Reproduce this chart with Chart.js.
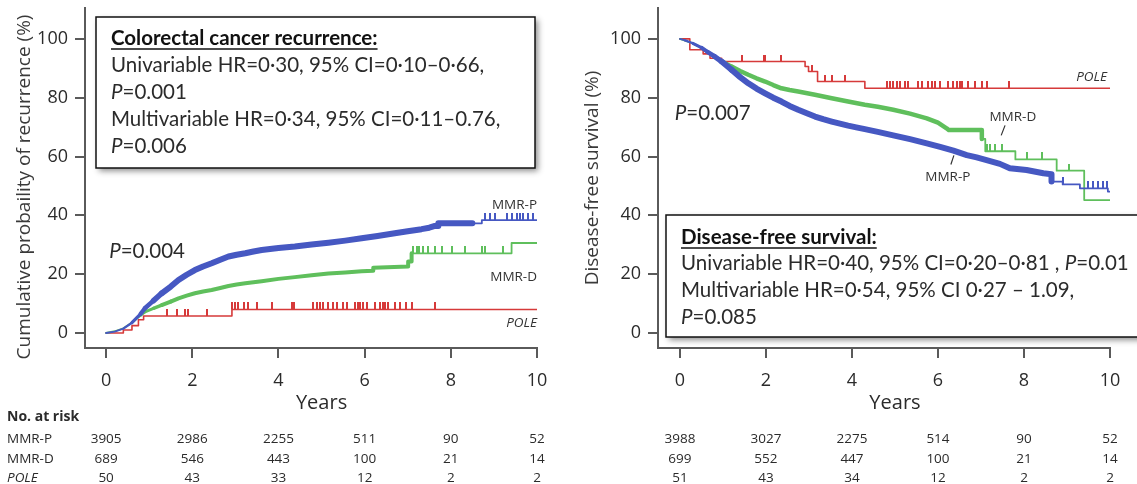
<!DOCTYPE html>
<html>
<head>
<meta charset="utf-8">
<script src="https://cdn.jsdelivr.net/npm/chart.js@4.4.1/dist/chart.umd.min.js"></script>
<style>
body { margin: 0; background: #fff; }
#wrap { position: relative; width: 1137px; height: 484px; overflow: hidden; }
#c1 { position: absolute; left: 0; top: 0; }
#c2 { position: absolute; left: 560px; top: 0; }
</style>
</head>
<body>
<div id="wrap">
  <canvas id="c1" width="560" height="484"></canvas>
  <canvas id="c2" width="577" height="484"></canvas>
</div>
<script>
// axis ticks
const xTicks = [0, 2, 4, 6, 8, 10];
const yTicks = [0, 20, 40, 60, 80, 100];

// left panel: cumulative probability of recurrence (%), times in years
// (a repeated time is a vertical jump of the curve)
const recPT = [0, 0.2, 0.4, 0.6, 0.8, 0.9, 1.1, 1.29, 1.5, 1.68, 1.87, 2.06, 2.25, 2.45, 2.65, 2.84, 3.03, 3.23, 3.42, 3.61, 4.0, 4.38, 4.77, 5.16, 5.55, 5.93, 6.3, 6.7, 7.0, 7.32, 7.5, 7.63, 7.71, 7.71, 8.5, 8.72, 8.72, 10];
const recPV = [0, 0.5, 1.5, 3.5, 6.5, 8.4, 11, 13.5, 15.8, 18, 19.8, 21.4, 22.6, 23.7, 24.9, 26, 26.6, 27.1, 27.7, 28.2, 28.9, 29.4, 30.1, 30.7, 31.4, 32.2, 33.0, 33.9, 34.6, 35.3, 35.8, 36.4, 36.4, 37.3, 37.3, 37.3, 38.4, 38.4];
const recDT = [0, 0.2, 0.4, 0.6, 0.8, 0.9, 1.1, 1.29, 1.5, 1.68, 1.87, 2.06, 2.25, 2.45, 2.65, 2.84, 3.03, 3.23, 3.61, 4.0, 4.38, 4.77, 5.16, 5.55, 5.93, 6.2, 6.2, 7.01, 7.01, 7.09, 7.09, 9.41, 9.41, 10];
const recDV = [0, 0.6, 1.6, 3.6, 6.0, 7.2, 8.4, 9.5, 10.7, 11.8, 12.7, 13.5, 14.1, 14.6, 15.3, 16.0, 16.5, 16.9, 17.6, 18.4, 19.0, 19.6, 20.2, 20.6, 21.0, 21.2, 22.2, 22.6, 24.3, 24.3, 27.1, 27.1, 30.6, 30.6];
const recET = [0, 0.4, 0.6, 0.75, 0.87, 2.92, 10];
const recEV = [0, 1.0, 2.5, 4.5, 5.8, 8.0, 8.0];
// censored times (left)
const recPCens = [8.79, 8.91, 9.03, 9.3, 9.41, 9.53, 9.61, 9.68, 9.8, 9.91];
const recDCens = [7.13, 7.21, 7.26, 7.36, 7.48, 7.63, 7.79, 8.02, 8.33, 8.72, 8.79, 9.22];
const recECens = [1.41, 1.64, 1.83, 1.91, 2.34, 2.92, 2.99, 3.07, 3.19, 3.3, 3.5, 3.84, 4.31, 4.35, 4.81, 4.89, 4.97, 5.04, 5.16, 5.27, 5.35, 5.5, 5.58, 5.78, 5.85, 5.89, 5.97, 6.05, 6.24, 6.36, 6.43, 6.47, 6.55, 6.7, 6.82, 6.97, 7.09, 7.63];

// right panel: disease-free survival (%)
const dfsPT = [0, 0.12, 0.3, 0.5, 0.65, 0.81, 0.97, 1.2, 1.4, 1.59, 1.78, 1.98, 2.17, 2.36, 2.55, 2.75, 2.95, 3.14, 3.33, 3.53, 3.72, 3.91, 4.1, 4.3, 4.6, 4.96, 5.35, 5.74, 6.05, 6.36, 6.67, 6.9, 7.13, 7.44, 7.67, 8.06, 8.45, 8.64, 8.64, 8.9, 8.9, 9.3, 9.3, 9.95, 9.95, 10];
const dfsPV = [100, 99.5, 98.5, 97, 95.5, 94, 92.3, 89.5, 87, 84.9, 83.1, 81.5, 80, 78.7, 77.2, 75.9, 74.7, 73.6, 72.7, 71.9, 71.2, 70.5, 69.9, 69.3, 68.4, 67.2, 65.9, 64.5, 63.3, 62, 60.5, 59.7, 58.8, 57.5, 56, 55.4, 54.3, 54.0, 51.5, 51.5, 50.5, 50.5, 49.2, 49.2, 48.1, 48.1];
const dfsDT = [0, 0.3, 0.5, 0.81, 1.0, 1.2, 1.4, 1.59, 1.78, 1.98, 2.17, 2.36, 2.55, 2.75, 3.14, 3.53, 3.91, 4.3, 4.6, 4.96, 5.35, 5.74, 6.0, 6.2, 6.25, 7.02, 7.02, 7.1, 7.1, 7.8, 7.8, 8.76, 8.76, 9.4, 9.4, 10];
const dfsDV = [100, 98.5, 97, 94, 92.2, 90.6, 89.1, 87.8, 86.6, 85.5, 84.3, 83.2, 82.6, 82.1, 81, 79.8, 78.7, 77.6, 76.9, 75.9, 74.6, 73, 71.5, 69.6, 69, 69, 66, 66, 61.8, 61.8, 59, 59, 55.2, 55.2, 45.2, 45.2];
const dfsET = [0, 0.23, 0.54, 0.7, 0.97, 2.91, 2.99, 3.2, 4.3, 10];
const dfsEV = [100, 96.3, 94.9, 93.4, 92.3, 90.6, 88.9, 85.5, 83.2, 83.2];
const dfsPCens = [8.9, 9.5, 9.6, 9.72, 9.84, 9.93];
const dfsDCens = [7.13, 7.21, 7.32, 7.48, 8.06, 8.41, 9.05];
const dfsECens = [1.44, 1.95, 1.98, 2.35, 3.06, 3.37, 3.53, 3.84, 4.81, 4.88, 4.96, 5.04, 5.12, 5.23, 5.31, 5.54, 5.62, 5.77, 5.85, 5.93, 6.05, 6.24, 6.36, 6.44, 6.51, 6.55, 6.7, 6.86, 7.02, 7.13, 7.64];

// numbers at risk
const riskNames = ['MMR-P', 'MMR-D', 'POLE'];
const recRiskP = [3905, 2986, 2255, 511, 90, 52];
const recRiskD = [689, 546, 443, 100, 21, 14];
const recRiskE = [50, 43, 33, 12, 2, 2];
const dfsRiskP = [3988, 3027, 2275, 514, 90, 52];
const dfsRiskD = [699, 552, 447, 100, 21, 14];
const dfsRiskE = [51, 43, 34, 12, 2, 2];

// styles
const blue = '#4658c2';
const green = '#5fbf5c';
const red = '#d63a3a';
const axisColor = '#5a5a5a';
const textColor = '#2b2b2b';
const sans = '"Open Sans", "DejaVu Sans", sans-serif';
const boxFont = 'Lato, "Open Sans", sans-serif';

function levelAt(T, V, t) {
  let v = V[0];
  for (let i = 0; i < T.length; i++) {
    if (T[i] <= t) v = V[i];
  }
  return v;
}

// censor mark: short vertical tick sitting on top of the curve
function tickImage(color) {
  const c = document.createElement('canvas');
  c.width = 2;
  c.height = 14;
  const g = c.getContext('2d');
  g.fillStyle = color;
  g.fillRect(0, 0, 2, 7);
  return c;
}

// band = [start, end, ramp]: dense censoring drawn as a thicker stroke
function curve(T, V, color, thin, thick, band, stepped) {
  return {
    type: 'line',
    data: T.map((t, i) => ({x: t, y: V[i]})),
    borderColor: color,
    borderWidth: thin,
    borderCapStyle: 'round',
    borderJoinStyle: 'round',
    stepped: stepped,
    tension: 0,
    pointRadius: 0,
    fill: false,
    segment: {
      borderWidth: c => {
        if (!band || c.p1.parsed.x > band[1]) return thin;
        const f = Math.max(0, Math.min(1, (c.p0.parsed.x - band[0]) / band[2]));
        return thin + (thick - thin) * f;
      }
    }
  };
}

function censored(T, V, C, color) {
  return {
    type: 'scatter',
    data: C.map(t => ({x: t, y: levelAt(T, V, t)})),
    pointStyle: tickImage(color),
    pointRadius: 4,
    showLine: false
  };
}

function scalesFor(xMin, yWidth) {
  const grid = {drawOnChartArea: false, drawTicks: true, tickLength: 10, color: axisColor, lineWidth: 2};
  const border = {display: true, color: axisColor, width: 2};
  return {
    x: {
      type: 'linear', min: xMin, max: 10,
      afterBuildTicks: s => { s.ticks = xTicks.map(v => ({value: v})); },
      afterFit: s => { s.height = 136; s.paddingLeft = 0; s.paddingRight = 0; },
      grid: grid, border: border,
      ticks: {font: {family: sans, size: 18}, color: textColor, padding: 12, maxRotation: 0, autoSkip: false}
    },
    y: {
      type: 'linear', min: -5.1, max: 110.5,
      afterBuildTicks: s => { s.ticks = yTicks.map(v => ({value: v})); },
      afterFit: s => { s.width = yWidth; s.paddingTop = 0; s.paddingBottom = 0; },
      grid: grid, border: border,
      ticks: {font: {family: sans, size: 18}, color: textColor, padding: 7, autoSkip: false}
    }
  };
}

// text made of runs like [['P','italic'], ['=0.001','']]
function runs(ctx, x, y, parts, size, family, align) {
  const widths = parts.map(p => {
    ctx.font = `${p[1]} ${size}px ${family}`;
    return ctx.measureText(p[0]).width;
  });
  const total = widths.reduce((a, b) => a + b, 0);
  let cx = align === 'right' ? x - total : align === 'center' ? x - total / 2 : x;
  ctx.textAlign = 'left';
  ctx.textBaseline = 'middle';
  parts.forEach((p, i) => {
    ctx.font = `${p[1]} ${size}px ${family}`;
    ctx.fillText(p[0], cx, y);
    cx += widths[i];
  });
  return total;
}

function box(ctx, x, y, w, h) {
  ctx.save();
  ctx.shadowColor = 'rgba(0,0,0,0.45)';
  ctx.shadowBlur = 6;
  ctx.shadowOffsetX = 3;
  ctx.shadowOffsetY = 3;
  ctx.fillStyle = '#fff';
  ctx.fillRect(x, y, w, h);
  ctx.restore();
  ctx.strokeStyle = '#111';
  ctx.lineWidth = 1.5;
  ctx.strokeRect(x, y, w, h);
}

function header(ctx, x, y, text) {
  ctx.fillStyle = '#111';
  const w = runs(ctx, x, y, [[text, 'bold']], 20.5, boxFont, 'left');
  ctx.strokeStyle = '#111';
  ctx.lineWidth = 1.5;
  ctx.beginPath();
  ctx.moveTo(x, y + 11);
  ctx.lineTo(x + w, y + 11);
  ctx.stroke();
}

function yTitle(ctx, x, y, text) {
  ctx.save();
  ctx.translate(x, y);
  ctx.rotate(-Math.PI / 2);
  ctx.fillStyle = '#3a3a3a';
  ctx.font = `19px ${sans}`;
  ctx.textAlign = 'center';
  ctx.textBaseline = 'middle';
  ctx.fillText(text, 0, 0);
  ctx.restore();
}

function riskTable(chart, ctx, rows, withNames) {
  const xs = chart.scales.x;
  const rowY = [439, 459, 478];
  ctx.fillStyle = textColor;
  if (withNames) {
    runs(ctx, 7, 417, [['No. at risk', 'bold']], 14, sans, 'left');
  }
  rows.forEach((row, r) => {
    if (withNames) {
      runs(ctx, 7, rowY[r], [[riskNames[r], r === 2 ? 'italic' : '']], 13.5, sans, 'left');
    }
    row.forEach((n, i) => {
      runs(ctx, xs.getPixelForValue(xTicks[i]), rowY[r], [[String(n), '']], 13.5, sans, 'center');
    });
  });
}

function overlay(draw) {
  return {
    id: 'overlay',
    afterDraw: chart => {
      const ctx = chart.ctx;
      ctx.save();
      draw(chart, ctx);
      ctx.restore();
    }
  };
}

function at(chart, t, v) {
  return [chart.scales.x.getPixelForValue(t), chart.scales.y.getPixelForValue(v)];
}

const leftOverlay = overlay((chart, ctx) => {
  yTitle(ctx, 25, 187, 'Cumulative probaility of recurrence (%)');
  box(ctx, 96, 17, 439, 151);
  header(ctx, 111, 38, 'Colorectal cancer recurrence:');
  ctx.fillStyle = textColor;
  runs(ctx, 111, 65, [['Univariable HR=0·30, 95% CI=0·10–0·66,', '']], 20.5, boxFont, 'left');
  runs(ctx, 111, 92, [['P', 'italic'], ['=0.001', '']], 20.5, boxFont, 'left');
  runs(ctx, 111, 119, [['Multivariable HR=0·34, 95% CI=0·11–0.76,', '']], 20.5, boxFont, 'left');
  runs(ctx, 111, 146, [['P', 'italic'], ['=0.006', '']], 20.5, boxFont, 'left');

  let p = at(chart, 0.07, 27.9);
  runs(ctx, p[0], p[1], [['P', 'italic'], ['=0.004', '']], 20.5, boxFont, 'left');
  ctx.fillStyle = '#333';
  p = at(chart, 10, 43.5);
  runs(ctx, p[0], p[1], [['MMR-P', '']], 13.5, sans, 'right');
  p = at(chart, 10, 19.0);
  runs(ctx, p[0], p[1], [['MMR-D', '']], 13.5, sans, 'right');
  p = at(chart, 10, 3.4);
  runs(ctx, p[0], p[1], [['POLE', 'italic']], 13.5, sans, 'right');

  ctx.fillStyle = textColor;
  runs(ctx, chart.scales.x.getPixelForValue(5), 403, [['Years', '']], 20, sans, 'center');
  riskTable(chart, ctx, [recRiskP, recRiskD, recRiskE], true);
});

const rightOverlay = overlay((chart, ctx) => {
  yTitle(ctx, 33, 178, 'Disease-free survival (%)');
  box(ctx, 106, 215, 490, 122);
  header(ctx, 121, 237, 'Disease-free survival:');
  ctx.fillStyle = textColor;
  runs(ctx, 121, 263, [['Univariable HR=0·40, 95% CI=0·20–0·81 , ', ''], ['P', 'italic'], ['=0.01', '']], 20.5, boxFont, 'left');
  runs(ctx, 121, 290, [['Multivariable HR=0·54, 95% CI 0·27 – 1.09,', '']], 20.5, boxFont, 'left');
  runs(ctx, 121, 317, [['P', 'italic'], ['=0.085', '']], 20.5, boxFont, 'left');

  let p = at(chart, -0.12, 74.8);
  runs(ctx, p[0], p[1], [['P', 'italic'], ['=0.007', '']], 20.5, boxFont, 'left');
  ctx.fillStyle = '#333';
  p = at(chart, 9.93, 87.1);
  runs(ctx, p[0], p[1], [['POLE', 'italic']], 13.5, sans, 'right');
  p = at(chart, 7.74, 73.5);
  runs(ctx, p[0], p[1], [['MMR-D', '']], 13.5, sans, 'center');
  p = at(chart, 6.23, 53.0);
  runs(ctx, p[0], p[1], [['MMR-P', '']], 13.5, sans, 'center');
  // leader strokes
  ctx.strokeStyle = '#333';
  ctx.lineWidth = 1.2;
  ctx.beginPath();
  let a = at(chart, 7.56, 70.6), b = at(chart, 7.47, 67.2);
  ctx.moveTo(a[0], a[1]); ctx.lineTo(b[0], b[1]);
  a = at(chart, 6.37, 60.4); b = at(chart, 6.30, 57.3);
  ctx.moveTo(a[0], a[1]); ctx.lineTo(b[0], b[1]);
  ctx.stroke();

  ctx.fillStyle = textColor;
  runs(ctx, chart.scales.x.getPixelForValue(5), 403, [['Years', '']], 20, sans, 'center');
  riskTable(chart, ctx, [dfsRiskP, dfsRiskD, dfsRiskE], false);
});

Chart.defaults.font.family = sans;

new Chart(document.getElementById('c1'), {
  type: 'line',
  data: {
    datasets: [
      curve(recPT, recPV, blue, 1.8, 6, [0.3, 8.5, 0.9], false),
      censored(recPT, recPV, recPCens, blue),
      curve(recDT, recDV, green, 1.8, 4, [0.4, 7.09, 0.9], false),
      censored(recDT, recDV, recDCens, green),
      curve(recET, recEV, red, 1.6, 1.6, null, true),
      censored(recET, recEV, recECens, red)
    ]
  },
  options: {
    responsive: false,
    animation: false,
    layout: {padding: {top: 8, right: 23, left: 0, bottom: 0}},
    plugins: {legend: {display: false}, tooltip: {enabled: false}},
    scales: scalesFor(-0.49, 85)
  },
  plugins: [leftOverlay]
});

new Chart(document.getElementById('c2'), {
  type: 'line',
  data: {
    datasets: [
      curve(dfsPT, dfsPV, blue, 1.8, 6, [0.0, 8.64, 1.0], false),
      censored(dfsPT, dfsPV, dfsPCens, blue),
      curve(dfsDT, dfsDV, green, 1.8, 4.5, [0.2, 7.02, 1.0], false),
      censored(dfsDT, dfsDV, dfsDCens, green),
      curve(dfsET, dfsEV, red, 1.6, 1.6, null, true),
      censored(dfsET, dfsEV, dfsECens, red)
    ]
  },
  options: {
    responsive: false,
    animation: false,
    layout: {padding: {top: 8, right: 27, left: 0, bottom: 0}},
    plugins: {legend: {display: false}, tooltip: {enabled: false}},
    scales: scalesFor(-0.51, 98)
  },
  plugins: [rightOverlay]
});
</script>
</body>
</html>
